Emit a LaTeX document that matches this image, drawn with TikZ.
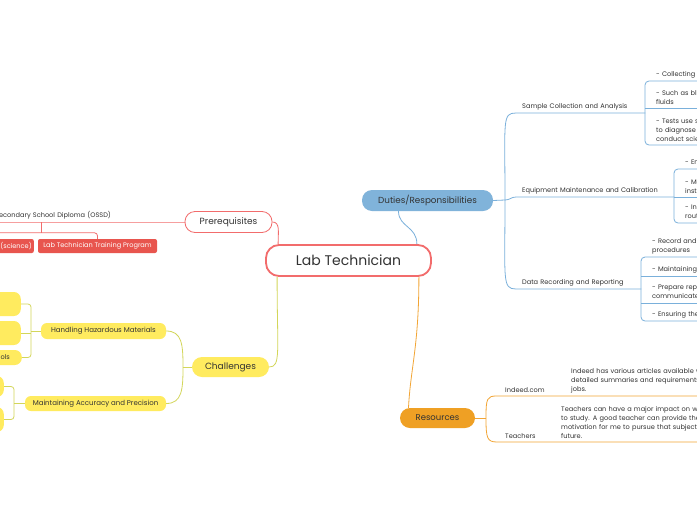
\documentclass[tikz,border=0pt]{standalone}
\usepackage{fontspec}
\setmainfont{Poppins}
\usetikzlibrary{positioning,calc}

\definecolor{mmred}{HTML}{F26C6C}
\definecolor{mmredfill}{HTML}{E8554E}
\definecolor{mmyel}{HTML}{FFEB5F}
\definecolor{mmyelline}{HTML}{D3D65A}
\definecolor{mmblue}{HTML}{80B3DA}
\definecolor{mmblueline}{HTML}{7AB0DB}
\definecolor{mmorange}{HTML}{EFA024}
\definecolor{mmorangeline}{HTML}{F2A535}
\definecolor{mmtext}{HTML}{333333}

\begin{document}
\begin{tikzpicture}[
  x=1pt, y=-1pt,
  font=\fontsize{6.6}{9}\selectfont, text=mmtext,
  root/.style={rectangle, rounded corners=13pt, draw=mmred, line width=1.8pt, fill=white,
               minimum width=165pt, minimum height=31pt, inner sep=0pt,
               font=\fontsize{14}{16}\selectfont},
  main/.style={rectangle, rounded corners=10pt, minimum height=21pt, inner sep=0pt,
               font=\fontsize{8.5}{10}\selectfont},
  sub/.style={anchor=south west, inner xsep=6pt, inner ysep=3pt, align=left},
  leaf/.style={anchor=south west, inner xsep=11pt, inner ysep=3pt, text width=190pt, align=left},
  ybox/.style={rectangle, rounded corners=6pt, fill=mmyel, inner sep=0pt,
               font=\fontsize{7}{8}\selectfont},
  yleaf/.style={rectangle, rounded corners=7pt, fill=mmyel,
                inner sep=0pt, anchor=east, align=right, text width=54pt},
  rleaf/.style={rectangle, rounded corners=2pt, fill=mmredfill, text=white, inner sep=0pt,
                minimum height=14pt},
  rl/.style={draw=mmred, line width=.8pt},
  yl/.style={draw=mmyelline, line width=.8pt},
  bl/.style={draw=mmblueline, line width=.8pt},
  ol/.style={draw=mmorangeline, line width=.8pt},
]

\useasboundingbox (0,0) rectangle (697,520);
\fill[white] (0,0) rectangle (697,520);
\clip (0,0) rectangle (697,520);

% ---------- central topic ----------
\node[root] (lab) at (348.5,260.5) {Lab Technician};

% ---------- main topics ----------
\node[main, draw=mmred, line width=.8pt, fill=white, minimum width=87pt,
      font=\fontsize{9}{10}\selectfont] (pre) at (228.5,222) {Prerequisites};
\node[main, fill=mmyel, minimum width=77pt, minimum height=20pt,
      font=\fontsize{9}{10}\selectfont] (chal) at (230.5,367) {Challenges};
\node[main, fill=mmblue, minimum width=131pt, font=\fontsize{8.8}{10}\selectfont]
  (duty) at (427.5,200.5) {Duties/Responsibilities};
\node[main, fill=mmorange, minimum width=75pt, minimum height=20pt] (res) at (437.5,418) {Resources};

\draw[rl] (pre.east) .. controls +(8,0) and +(0,-12) .. ([xshift=13pt]lab.north west);
\draw[yl] ([xshift=12pt]lab.south west) .. controls +(0,75) and +(12,0) .. (chal.east);
\draw[bl] ([xshift=-15pt]lab.north east) .. controls +(0,-18) and +(0,16) .. ([xshift=-29pt]duty.south);
\draw[ol] ([xshift=-13pt]lab.south east) .. controls +(0,70) and +(2,-40) .. ([xshift=-29pt]res.north);

% ===== prerequisites (left, red) =====
\node[sub, inner xsep=4pt, text width=186pt] (ossd) at (-9,222) {Secondary School Diploma (OSSD)};
\draw[rl] (ossd.south west) -- (ossd.south east) -- (pre.west);
\node[rleaf, minimum width=119pt] (ltp) at (97.5,246) {Lab Technician Training Program};
\node[rleaf, anchor=east, text width=70pt, align=right, inner xsep=2pt] (sci) at (34,246) {(science)};
\coordinate (rj) at (41,222);
\draw[rl] (rj) -- (rj |- 0,233);
\draw[rl, rounded corners=3pt] (sci.north) -- ++(0,-6) -| (ltp.north);

% ===== challenges (left, yellow) =====
\node[ybox, minimum width=125pt, minimum height=16pt] (haz) at (103.5,331) {Handling Hazardous Materials};
\node[ybox, minimum width=141pt, minimum height=15pt] (acc) at (95.5,403.5) {Maintaining Accuracy and Precision};
\coordinate (cj) at (183,367);
\draw[yl] (chal.west) -- (cj);
\draw[yl] (haz.east) .. controls +(16,0) and +(0,-22) .. (cj);
\draw[yl] (acc.east) .. controls +(16,0) and +(0,22) .. (cj);

\node[yleaf, minimum height=24pt] (haz1) at (21,304) {};
\node[yleaf, minimum height=24pt] (haz2) at (21,333) {};
\node[yleaf, minimum height=15pt, inner xsep=12pt] (haz3) at (22,357.5) {ols};
\coordinate (hj) at (31,331);
\draw[yl] (haz.west) -- (hj);
\draw[yl, rounded corners=3pt] (haz1.east) -| (hj) |- (haz3.east);
\draw[yl] (haz2.east) -- (haz2.east -| hj);

\node[yleaf, minimum height=21pt] (acc1) at (4,386.5) {};
\node[yleaf, minimum height=25pt] (acc2) at (4,419.5) {};
\coordinate (aj) at (14,403.5);
\draw[yl] (acc.west) -- (aj);
\draw[yl, rounded corners=3pt] (acc1.east) -| (aj) |- (acc2.east);

% ===== duties (right, blue) =====
\node[sub, text width=117pt] (samp) at (516,113) {Sample Collection and Analysis};
\node[sub, text width=146pt] (equip) at (516,197) {Equipment Maintenance and Calibration};
\node[sub, text width=113pt] (data) at (516,289) {Data Recording and Reporting};
\coordinate (dj) at (505,200);
\draw[bl] (duty.east) -- (dj);
\draw[bl] (dj) .. controls +(0,-80) and +(-14,0) .. (samp.south west) -- (samp.south east);
\draw[bl] (dj) .. controls +(5,0) and +(-5,0) .. (equip.south west) -- (equip.south east);
\draw[bl] (dj) .. controls +(0,80) and +(-14,0) .. (data.south west) -- (data.south east);

% sample collection
\node[leaf] (s1) at (645,81) {- Collecting samples};
\node[leaf] (s2) at (645,108) {- Such as blood, urine and other body\\fluids};
\node[leaf] (s3) at (645,145) {- Tests use samples\\to diagnose diseases or\\conduct scientific research};
\draw[bl, rounded corners=4pt] (s1.south east) -- (s1.south west) -- (s3.south west) -- (s3.south east);
\draw[bl] (s2.south west) -- (s2.south east);

% equipment
\node[leaf] (e1) at (674,169) {- Ensure equipment works};
\node[leaf] (e2) at (674,197) {- Maintain laboratory\\instruments};
\node[leaf] (e3) at (674,223) {- Inspect equipment\\routinely};
\draw[bl, rounded corners=4pt] (e1.south east) -- (e1.south west) -- (e3.south west) -- (e3.south east);
\draw[bl] (e2.south west) -- (e2.south east);

% data recording
\node[leaf] (d1) at (641,257) {- Record and document results and\\procedures};
\node[leaf] (d2) at (641,276) {- Maintaining records};
\node[leaf] (d3) at (641,303) {- Prepare reports to\\communicate findings};
\node[leaf] (d4) at (641,321) {- Ensuring the accuracy of data};
\draw[bl, rounded corners=4pt] (d1.south east) -- (d1.south west) -- (d4.south west) -- (d4.south east);
\draw[bl] (d2.south west) -- (d2.south east);
\draw[bl] (d3.south west) -- (d3.south east);

% ===== resources (bottom right, orange) =====
\node[sub, inner xsep=8pt] (ind) at (497,396) {Indeed.com};
\node[leaf, inner xsep=8pt] (indn) at (563,396) {Indeed has various articles available with\\detailed summaries and requirements for\\jobs.};
\node[sub, inner xsep=8pt] (tea) at (497,442) {Teachers};
\node[leaf, inner xsep=8pt] (tean) at (553,442) {Teachers can have a major impact on what I choose\\to study. A good teacher can provide the\\motivation for me to pursue that subject in the\\future.};
\coordinate (oj) at (486,418);
\draw[ol] (res.east) -- (oj);
\draw[ol] (oj) .. controls +(0,-20) and +(-10,0) .. (ind.south west) -- (indn.south east);
\draw[ol] (oj) .. controls +(0,20) and +(-10,0) .. (tea.south west) -- (tean.south east);

\end{tikzpicture}
\end{document}
